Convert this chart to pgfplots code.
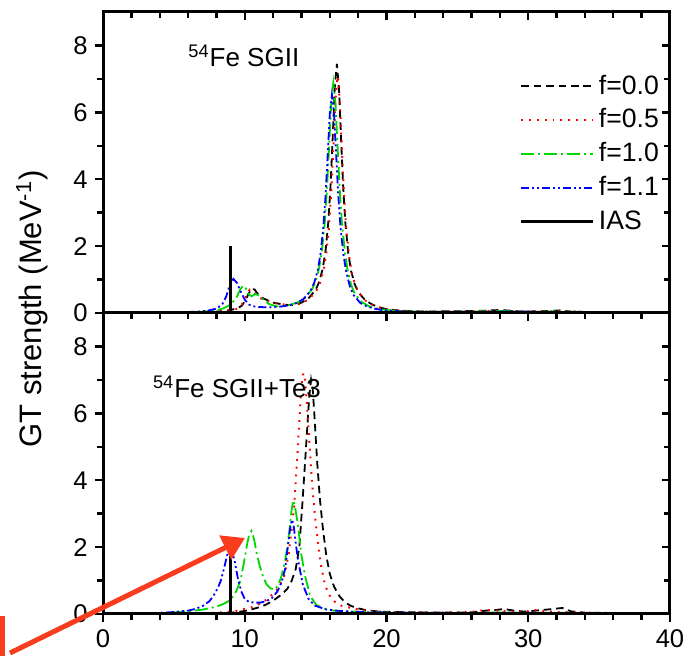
\documentclass[border=0pt]{standalone}
\usepackage{fontspec}
\setmainfont{Liberation Sans}
\usepackage{pgfplots}
\pgfplotsset{compat=1.18}
\usetikzlibrary{arrows.meta}

\definecolor{cgreen}{RGB}{0,215,0}
\definecolor{carrow}{RGB}{250,60,30}

\tikzset{
  s0/.style={black, line width=0.9pt, dash pattern=on 3.8pt off 2.4pt},
  s5/.style={red, line width=1pt, dash pattern=on 0.9pt off 3pt},
  s10/.style={cgreen, line width=0.9pt, dash pattern=on 6.5pt off 2pt on 1pt off 2pt},
  s11/.style={blue, line width=0.9pt, dash pattern=on 4pt off 1.5pt on 1pt off 1.5pt on 1pt off 1.5pt},
  ias/.style={black, line width=1.5pt},
}

\pgfplotsset{
  panel/.style={
    scale only axis, width=283.5pt, height=150.5pt,
    xmin=0, xmax=40, ymin=0, ymax=9,
    xtick={0,10,...,40}, minor x tick num=4,
    ytick={0,2,...,8}, minor y tick num=1,
    axis line style={line width=1.5pt},
    tick style={black, line width=1.2pt},
    major tick length=4.2pt, minor tick length=2.8pt,
    tick label style={font=\fontsize{12.8}{15}\selectfont},
    /pgf/number format/assume math mode=true,
    clip=false,
  },
  base/.style={panel, tick align=outside, xtick pos=left, ytick pos=left},
  mirror/.style={panel, tick align=inside, xtick pos=right, ytick pos=right,
    xticklabels={}, yticklabels={}},
}

\begin{document}
\begin{tikzpicture}
\path[use as bounding box] (0,0) rectangle (343pt,-328pt);

% ---------- top panel: SGII ----------
\begin{axis}[base, at={(51.5pt,-6pt)}, anchor=north west, xticklabels={},
  legend style={at={(0.988,0.806)}, anchor=north east, draw=none, fill=none,
    font=\fontsize{13.3}{15}\selectfont, row sep=1.85pt, inner sep=0pt},
  legend cell align=left,
  legend image code/.code={\draw[#1] (0pt,0pt) -- (36pt,0pt);}]
\addplot[s0] coordinates {
(0,0) (2,0.004) (4,0.008) (6,0.015) (7,0.025) (8,0.04) (8.5,0.06) (9,0.09)
(9.5,0.14) (9.8,0.22) (10.1,0.42) (10.3,0.6) (10.5,0.73) (10.7,0.7) (10.9,0.58)
(11.1,0.48) (11.3,0.44) (11.6,0.38) (12,0.31) (12.5,0.27) (13,0.24) (13.5,0.24)
(14,0.31) (14.5,0.44) (15,0.69) (15.25,0.93) (15.5,1.32) (15.7,1.86) (15.9,2.74)
(16.05,3.78) (16.2,5.2) (16.35,6.74) (16.5,7.45) (16.65,6.7) (16.8,5.15)
(16.95,3.72) (17.1,2.68) (17.3,1.8) (17.5,1.26) (17.75,0.87) (18,0.63)
(18.5,0.38) (19,0.25) (19.5,0.17) (20,0.11) (21,0.07) (22,0.05) (23,0.04)
(24,0.05) (25,0.05) (26,0.06) (27,0.07) (28,0.09) (28.7,0.07) (29.5,0.04)
(30.5,0.05) (31.5,0.06) (32.3,0.08) (33,0.04) (34,0.03) (36,0.02) (38,0.02) (40,0.01)};
\addlegendentry{f=0.0}
\addplot[s5] coordinates {
(0,0) (2,0.004) (4,0.008) (6,0.015) (7,0.025) (8,0.045) (8.5,0.065) (9,0.09)
(9.5,0.13) (9.8,0.25) (10.1,0.5) (10.35,0.7) (10.6,0.66) (10.9,0.5) (11.2,0.42)
(11.6,0.36) (12,0.3) (12.5,0.27) (13,0.24) (13.55,0.23) (14.05,0.3) (14.55,0.42)
(15.05,0.66) (15.3,0.89) (15.55,1.26) (15.75,1.76) (15.95,2.6) (16.1,3.58)
(16.25,4.92) (16.4,6.38) (16.55,7.08) (16.7,6.38) (16.85,4.92) (17,3.58)
(17.15,2.6) (17.35,1.74) (17.55,1.2) (17.8,0.83) (18.05,0.6) (18.55,0.36)
(19.05,0.24) (19.55,0.16) (20.05,0.11) (21,0.06) (22,0.05) (24,0.04) (26,0.05)
(27.5,0.07) (28.5,0.06) (30,0.04) (31.5,0.05) (32.5,0.06) (34,0.03) (37,0.02) (40,0.01)};
\addlegendentry{f=0.5}
\addplot[s10] coordinates {
(0,0) (4,0.01) (6,0.02) (7,0.04) (8,0.08) (8.5,0.14) (9,0.25) (9.4,0.45)
(9.7,0.72) (9.9,0.82) (10.1,0.72) (10.3,0.55) (10.5,0.5) (10.75,0.57) (11,0.52)
(11.3,0.4) (11.7,0.27) (12.2,0.2) (12.7,0.2) (13.25,0.25) (13.75,0.32)
(14.25,0.45) (14.75,0.71) (15,0.95) (15.25,1.35) (15.45,1.88) (15.65,2.73)
(15.8,3.7) (15.95,4.97) (16.1,6.27) (16.25,6.88) (16.4,6.27) (16.55,4.97)
(16.7,3.7) (16.85,2.73) (17.05,1.88) (17.25,1.3) (17.5,0.85) (17.75,0.58)
(18.25,0.33) (18.75,0.2) (19.25,0.14) (19.75,0.1) (21,0.05) (23,0.04) (25,0.04)
(27,0.05) (28.5,0.06) (30,0.03) (32,0.05) (34,0.03) (37,0.02) (40,0.02)};
\addlegendentry{f=1.0}
\addplot[s11] coordinates {
(0,0) (2,0.005) (4,0.01) (6,0.03) (7,0.05) (7.5,0.08) (8,0.13) (8.4,0.25)
(8.7,0.5) (8.95,0.85) (9.2,1.02) (9.45,0.9) (9.7,0.65) (10,0.4) (10.3,0.25)
(10.6,0.2) (11,0.18) (11.5,0.17) (12,0.17) (12.5,0.19) (13.15,0.23) (13.65,0.3)
(14.15,0.42) (14.65,0.67) (14.9,0.9) (15.15,1.28) (15.35,1.78) (15.55,2.59)
(15.7,3.5) (15.85,4.71) (16,5.95) (16.15,6.52) (16.3,5.95) (16.45,4.71)
(16.6,3.5) (16.75,2.59) (16.95,1.78) (17.15,1.25) (17.4,0.82) (17.65,0.55)
(18.15,0.3) (18.65,0.19) (19.15,0.13) (19.65,0.09) (21,0.05) (23,0.03) (25,0.04)
(27,0.04) (29,0.05) (31,0.03) (33,0.04) (35,0.02) (40,0.01)};
\addlegendentry{f=1.1}
\addplot[ias] coordinates {(9,0) (9,2)};
\addlegendentry{IAS}
\node[anchor=base west, font=\fontsize{13}{15}\selectfont, inner sep=0pt] at (axis cs:6.0,7.37)
  {\textsuperscript{54}Fe SGII};
\end{axis}
\begin{axis}[mirror, at={(51.5pt,-6pt)}, anchor=north west]
\end{axis}

% ---------- bottom panel: SGII+Te3 ----------
\begin{axis}[base, at={(51.5pt,-156.5pt)}, anchor=north west]
\addplot[s0] coordinates {
(0,0) (4,0.005) (7,0.015) (8,0.025) (9,0.04) (9.5,0.06) (10,0.09) (10.5,0.14)
(11,0.2) (11.5,0.28) (12,0.4) (12.5,0.55) (13,0.75) (13.3,0.98) (13.6,1.35)
(13.85,2.0) (14.05,3.2) (14.25,4.5) (14.4,5.5) (14.55,6.5) (14.68,7.0) (14.8,6.7)
(14.95,5.7) (15.1,4.6) (15.3,3.45) (15.5,2.6) (15.75,1.75) (16,1.2) (16.3,0.82)
(16.7,0.52) (17.1,0.34) (17.5,0.24) (18,0.17) (18.5,0.12) (19.5,0.07) (20.5,0.06)
(22,0.05) (24,0.04) (26,0.05) (27,0.1) (27.7,0.12) (28.3,0.15) (29,0.1)
(29.8,0.07) (30.5,0.1) (31.5,0.14) (32.4,0.18) (33,0.08) (34,0.04) (36,0.03)
(38,0.02) (40,0.02)};
\addplot[s5] coordinates {
(0,0) (4,0.005) (7,0.02) (8,0.04) (9,0.07) (9.5,0.1) (10,0.15) (10.5,0.2)
(11,0.3) (11.5,0.42) (12,0.6) (12.4,0.8) (12.8,1.15) (13.1,1.8) (13.3,2.5)
(13.5,3.3) (13.65,4.3) (13.8,5.4) (13.95,6.5) (14.05,7.05) (14.15,7.2) (14.25,7.0)
(14.4,6.2) (14.55,5.2) (14.7,4.2) (14.85,3.4) (15,2.75) (15.2,2.0) (15.4,1.4)
(15.65,0.9) (15.9,0.6) (16.3,0.38) (16.8,0.25) (17.3,0.2) (18,0.14) (19,0.08)
(20,0.06) (22,0.05) (24,0.04) (26,0.06) (27,0.12) (27.7,0.1) (28.5,0.08)
(29.5,0.05) (30.5,0.12) (31.2,0.08) (32,0.06) (34,0.04) (37,0.02) (40,0.02)};
\addplot[s10] coordinates {
(0,0) (3,0.01) (5,0.05) (6,0.08) (7,0.13) (7.5,0.17) (8,0.22) (8.5,0.3)
(9,0.42) (9.4,0.68) (9.7,1.0) (9.95,1.55) (10.15,2.05) (10.3,2.35) (10.47,2.48)
(10.65,2.25) (10.85,1.8) (11.05,1.45) (11.3,1.1) (11.55,0.88) (11.8,0.77)
(12.1,0.73) (12.35,0.85) (12.6,1.14) (12.85,1.6) (13,2.0) (13.15,2.5) (13.3,3.1)
(13.42,3.4) (13.55,3.2) (13.7,2.8) (13.85,2.3) (14,1.75) (14.25,1.15) (14.6,0.55)
(15.05,0.27) (15.6,0.16) (16.3,0.1) (17,0.08) (18,0.07) (19,0.05) (21,0.04)
(24,0.03) (27,0.04) (28.5,0.05) (30,0.03) (32,0.04) (35,0.02) (40,0.01)};
\addplot[s11] coordinates {
(0,0) (2,0.01) (4,0.03) (5,0.06) (6,0.1) (6.5,0.15) (7,0.23) (7.5,0.38)
(7.8,0.55) (8.1,0.78) (8.3,0.98) (8.55,1.38) (8.75,1.75) (8.95,1.95) (9.15,1.8)
(9.3,1.55) (9.5,1.1) (9.75,0.68) (10,0.45) (10.3,0.36) (10.7,0.34) (11.1,0.34)
(11.5,0.38) (11.9,0.47) (12.3,0.67) (12.6,0.95) (12.85,1.35) (13.05,2.05)
(13.2,2.55) (13.32,2.82) (13.45,2.65) (13.6,2.1) (13.75,1.65) (13.9,1.3)
(14.1,0.88) (14.5,0.45) (14.95,0.25) (15.7,0.14) (16.5,0.1) (17.5,0.07)
(19,0.05) (22,0.04) (26,0.03) (29,0.04) (32,0.03) (36,0.02) (40,0.01)};
\addplot[ias] coordinates {(9,0) (9,1.85)};
\node[anchor=base west, font=\fontsize{13}{15}\selectfont, inner sep=0pt] at (axis cs:3.5,6.48)
  {\textsuperscript{54}Fe SGII+Te3};
\end{axis}
\begin{axis}[mirror, at={(51.5pt,-156.5pt)}, anchor=north west]
\end{axis}

\node[rotate=90, font=\fontsize{15.5}{18}\selectfont] at (16pt,-154.5pt)
  {GT strength (MeV\textsuperscript{-1})};

% red annotation
\draw[carrow, line width=2.5pt, -{Triangle[length=11pt,width=13pt]}]
  (5pt,-326.5pt) -- (122.5pt,-269pt);
\draw[carrow, line width=2.5pt] (-20pt,-309.5pt) rectangle (1.25pt,-360pt);
\end{tikzpicture}
\end{document}
